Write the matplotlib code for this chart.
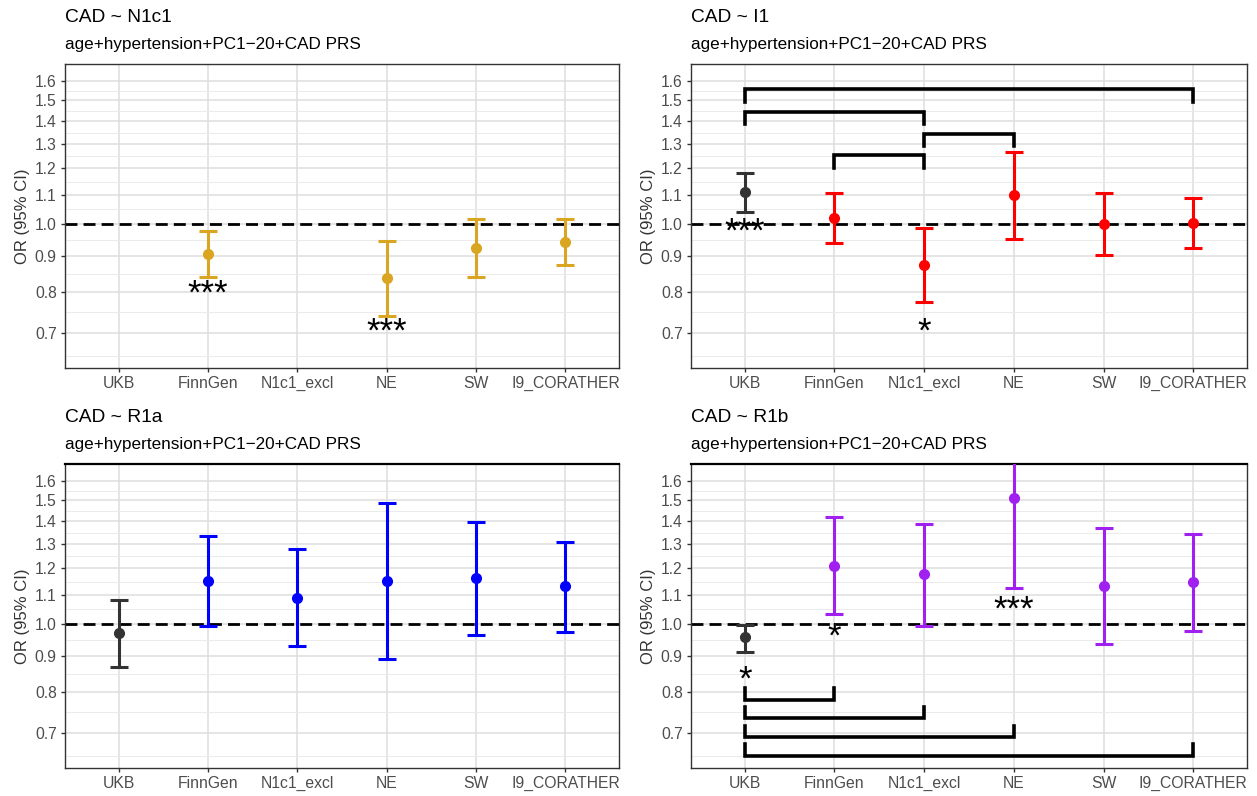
import numpy as np
import matplotlib.pyplot as plt

plt.rcParams['font.family'] = ['Liberation Sans', 'DejaVu Sans']

cohorts = ['UKB', 'FinnGen', 'N1c1_excl', 'NE', 'SW', 'I9_CORATHER']
subtitle = 'age+hypertension+PC1\u221220+CAD PRS'
yticks = [0.7, 0.8, 0.9, 1.0, 1.1, 1.2, 1.3, 1.4, 1.5, 1.6]

# CAD ~ N1c1
n1c1_or = [np.nan, 0.905, np.nan, 0.836, 0.924, 0.943]
n1c1_lo = [np.nan, 0.840, np.nan, 0.740, 0.839, 0.875]
n1c1_hi = [np.nan, 0.976, np.nan, 0.944, 1.017, 1.017]
n1c1_stars = ['', '***', '', '***', '', '']
n1c1_star_y = [np.nan, 0.795, np.nan, 0.700, np.nan, np.nan]

# CAD ~ I1
i1_or = [1.110, 1.020, 0.873, 1.099, 1.001, 1.003]
i1_lo = [1.041, 0.940, 0.774, 0.953, 0.902, 0.923]
i1_hi = [1.181, 1.107, 0.986, 1.264, 1.107, 1.087]
i1_stars = ['***', '', '*', '', '', '']
i1_star_y = [0.972, np.nan, 0.700, np.nan, np.nan, np.nan]
i1_brackets = [(0, 5, 1.555), (0, 2, 1.444), (2, 3, 1.345), (1, 2, 1.252)]

# CAD ~ R1a
r1a_or = [0.970, 1.152, 1.089, 1.150, 1.162, 1.131]
r1a_lo = [0.867, 0.993, 0.930, 0.891, 0.965, 0.975]
r1a_hi = [1.080, 1.335, 1.277, 1.487, 1.399, 1.310]
r1a_stars = ['', '', '', '', '', '']
r1a_star_y = [np.nan] * 6

# CAD ~ R1b
r1b_or = [0.959, 1.210, 1.177, 1.512, 1.131, 1.146]
r1b_lo = [0.913, 1.032, 0.994, 1.125, 0.936, 0.976]
r1b_hi = [0.995, 1.419, 1.390, 1.850, 1.370, 1.345]
r1b_stars = ['*', '*', '', '***', '', '']
r1b_star_y = [0.832, 0.957, np.nan, 1.045, np.nan, np.nan]
r1b_brackets = [(0, 1, 0.780), (0, 2, 0.733), (0, 3, 0.689), (0, 5, 0.649)]

panels = [
    ('CAD ~ N1c1', '#DAA520', n1c1_or, n1c1_lo, n1c1_hi, n1c1_stars, n1c1_star_y, [], 1),
    ('CAD ~ I1', '#FF0000', i1_or, i1_lo, i1_hi, i1_stars, i1_star_y, i1_brackets, -1),
    ('CAD ~ R1a', '#0000FF', r1a_or, r1a_lo, r1a_hi, r1a_stars, r1a_star_y, [], 1),
    ('CAD ~ R1b', '#A020F0', r1b_or, r1b_lo, r1b_hi, r1b_stars, r1b_star_y, r1b_brackets, 1),
]

W, H = 1257, 796
boxes = [(65, 64, 619, 368), (691, 64, 1247, 368),
         (65, 464, 619, 768), (691, 464, 1247, 768)]

fig = plt.figure(figsize=(W / 100, H / 100), dpi=100)

brk = [0.6] + yticks
minor = [np.sqrt(a * b) for a, b in zip(brk[:-1], brk[1:])]

for k, (title, col, orv, lo, hi, stars, sy, brackets, tipdir) in enumerate(panels):
    x0, y0, x1, y1 = boxes[k]
    ax = fig.add_axes([x0 / W, 1 - y1 / H, (x1 - x0) / W, (y1 - y0) / H])
    ax.set_yscale('log')
    ax.set_ylim(0.623, 1.69)
    ax.set_xlim(-0.6, 5.6)
    x = np.arange(len(cohorts))

    ax.set_yticks(yticks)
    ax.set_yticklabels(['%.1f' % v for v in yticks])
    ax.set_yticks(minor, minor=True)
    ax.yaxis.set_minor_formatter(plt.NullFormatter())
    ax.set_xticks(x)
    ax.set_xticklabels(cohorts)
    ax.tick_params(axis='both', which='major', labelsize=11.3, colors='#333333',
                   labelcolor='#4D4D4D', length=3, width=1, pad=3)
    ax.tick_params(axis='y', which='minor', length=0)
    ax.grid(True, which='major', color='#DEDEDE', lw=1.1)
    ax.grid(True, which='minor', axis='y', color='#EBEBEB', lw=0.7)
    ax.set_axisbelow(True)

    for s in ax.spines.values():
        s.set_color('#333333')
        s.set_linewidth(1.0)
    if k >= 2:
        ax.spines['top'].set_color('black')
        ax.spines['top'].set_linewidth(1.6)

    ax.axhline(1.0, color='black', lw=2.0, ls=(0, (4.3, 2.2)), zorder=2)

    for i in range(len(cohorts)):
        if np.isnan(orv[i]):
            continue
        c = '#333333' if i == 0 else col
        ax.errorbar(x[i], orv[i], yerr=[[orv[i] - lo[i]], [hi[i] - orv[i]]],
                    fmt='o', color=c, ms=7, elinewidth=2.2, capsize=6.5,
                    capthick=2.2, zorder=3)
        if stars[i]:
            ax.text(x[i], sy[i], stars[i], ha='center', va='center',
                    fontsize=25, color='black', zorder=4)

    for a, b, h in brackets:
        tip = h * (0.96 if tipdir < 0 else 1.038)
        ax.plot([x[a], x[a], x[b], x[b]], [tip, h, h, tip], color='black',
                lw=2.6, solid_joinstyle='miter', zorder=4)

    ax.set_ylabel('OR (95% CI)', fontsize=12, color='#333333', labelpad=3)

    fig.text(x0 / W, 1 - (y0 - 47) / H, title, fontsize=13.8, va='center', ha='left')
    fig.text(x0 / W, 1 - (y0 - 19) / H, subtitle, fontsize=12.3, va='center', ha='left')

fig.savefig('out.png', dpi=100)
